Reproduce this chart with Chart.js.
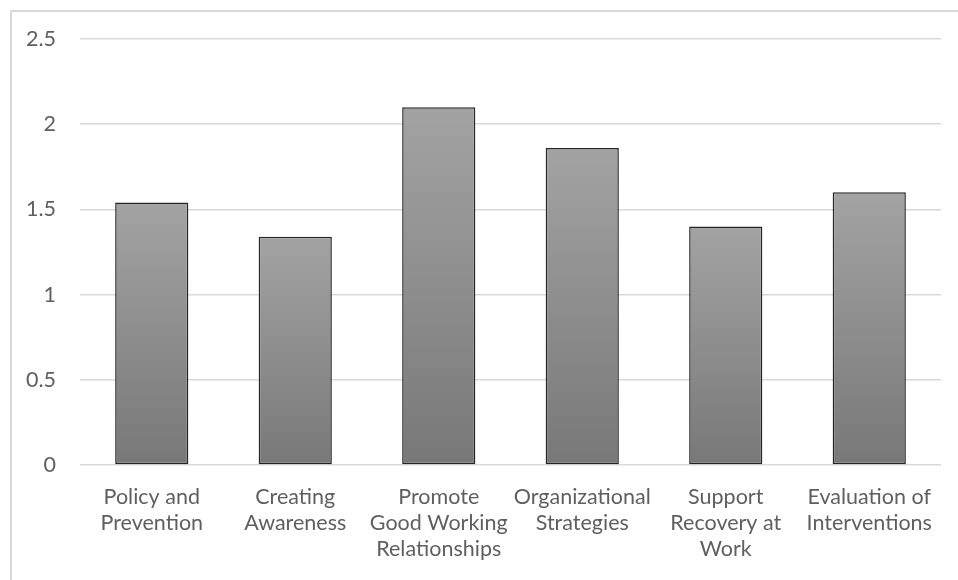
<!DOCTYPE html>
<html>
<head>
<meta charset="utf-8">
<script src="https://cdn.jsdelivr.net/npm/chart.js@4"></script>
<style>
  html, body { margin: 0; padding: 0; background: #fff; }
  #wrap { position: relative; width: 958px; height: 580px; overflow: hidden; }
  #frame { position: absolute; left: 10px; top: 10px; width: 1000px; height: 1000px;
           border-top: 2px solid #d9d9d9; border-left: 2px solid #d9d9d9; box-sizing: border-box; }
  canvas { position: absolute; left: 0; top: 0; }
</style>
</head>
<body>
<div id="wrap">
  <div id="frame"></div>
  <canvas id="c" width="958" height="580"></canvas>
</div>
<script>
const categories = [
  ['Policy and', 'Prevention'],
  ['Creating', 'Awareness'],
  ['Promote', 'Good Working', 'Relationships'],
  ['Organizational', 'Strategies'],
  ['Support', 'Recovery at', 'Work'],
  ['Evaluation of', 'Interventions']
];
const values = [1.54, 1.34, 2.10, 1.86, 1.40, 1.60];
const yTicks = [0, 0.5, 1, 1.5, 2, 2.5];

const FONT = 'Lato, "Open Sans", sans-serif';
const TEXT = '#5f5f5f';

function barFill(ctx) {
  const chart = ctx.chart;
  const area = chart.chartArea;
  if (!area || ctx.type !== 'data') return '#8c8c8c';
  const ys = chart.scales.y;
  const top = ys.getPixelForValue(ctx.parsed.y);
  const bottom = ys.getPixelForValue(0);
  const g = chart.ctx.createLinearGradient(0, top, 0, bottom);
  g.addColorStop(0, '#a3a3a3');
  g.addColorStop(1, '#787878');
  return g;
}

new Chart(document.getElementById('c'), {
  type: 'bar',
  data: {
    labels: categories,
    datasets: [{
      data: values,
      backgroundColor: barFill,
      borderColor: '#262626',
      borderWidth: 1.5,
      borderSkipped: false,
      categoryPercentage: 1,
      barPercentage: 0.51
    }]
  },
  options: {
    responsive: false,
    animation: false,
    devicePixelRatio: 1,
    layout: { padding: { left: 0, right: 17, top: 39, bottom: 0 } },
    plugins: { legend: { display: false }, tooltip: { enabled: false } },
    scales: {
      x: {
        grid: { display: false, drawTicks: false },
        border: { display: false },
        ticks: {
          color: TEXT, font: { family: FONT, size: 21.5, lineHeight: 1.21 },
          padding: 19, maxRotation: 0, autoSkip: false
        },
        afterFit(s) { s.height = 115; }
      },
      y: {
        min: 0, max: 2.5,
        afterBuildTicks(s) { s.ticks = yTicks.map(v => ({ value: v })); },
        grid: { color: '#d9d9d9', lineWidth: 1.5, drawTicks: false },
        border: { display: false },
        ticks: {
          color: TEXT, font: { family: FONT, size: 21.5 }, padding: 24,
          callback: v => String(v)
        },
        afterFit(s) { s.width = 80; }
      }
    }
  }
});
</script>
</body>
</html>
